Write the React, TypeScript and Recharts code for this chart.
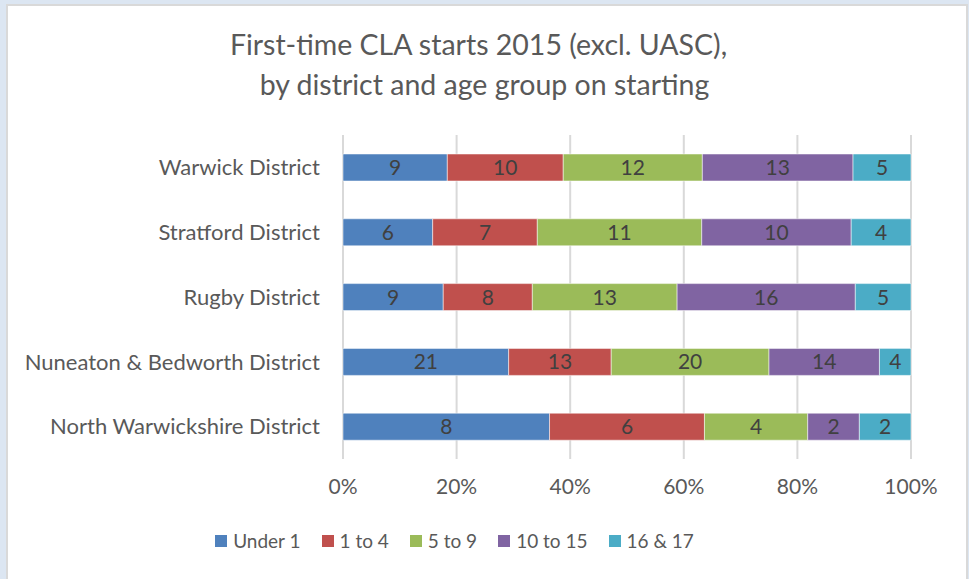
import React from "react";
import { BarChart, Bar, XAxis, YAxis, CartesianGrid, Legend, LabelList } from "recharts";

const districts = [
  "Warwick District",
  "Stratford District",
  "Rugby District",
  "Nuneaton & Bedworth District",
  "North Warwickshire District",
];
const under1 = [9, 6, 9, 21, 8];
const oneTo4 = [10, 7, 8, 13, 6];
const fiveTo9 = [12, 11, 13, 20, 4];
const tenTo15 = [13, 10, 16, 14, 2];
const sixteen17 = [5, 4, 5, 4, 2];
const xTicks = [0, 0.2, 0.4, 0.6, 0.8, 1];

const seriesDefs = [
  { key: "u1", name: "Under 1", color: "#4f81bd", values: under1 },
  { key: "a14", name: "1 to 4", color: "#c0504d", values: oneTo4 },
  { key: "a59", name: "5 to 9", color: "#9bbb59", values: fiveTo9 },
  { key: "a1015", name: "10 to 15", color: "#8064a2", values: tenTo15 },
  { key: "a1617", name: "16 & 17", color: "#4bacc6", values: sixteen17 },
];

const data = districts.map((d, i) => {
  const row: Record<string, any> = { district: d };
  seriesDefs.forEach((s) => (row[s.key] = s.values[i]));
  return row;
});

const FONT = "Lato, 'Open Sans', sans-serif";

const LegendContent = (props: any) => {
  const payload = props.payload || [];
  const ordered = seriesDefs
    .map((s) => payload.find((p: any) => p.value === s.name))
    .filter(Boolean);
  return (
    <div style={{ display: "flex", justifyContent: "center", fontFamily: FONT, fontSize: 19, color: "#595959" }}>
      {ordered.map((p: any, i: number) => (
        <div key={i} style={{ display: "flex", alignItems: "center", marginRight: i < ordered.length - 1 ? 21 : 0 }}>
          <span style={{ display: "inline-block", width: 12, height: 12, background: p.color, marginRight: 6 }} />
          <span>{p.value}</span>
        </div>
      ))}
    </div>
  );
};

export default function App() {
  return (
    <div style={{ position: "absolute", left: 0, top: 0, width: 969, height: 579, background: "#dce6f2", overflow: "hidden" }}>
      <div
        style={{
          position: "absolute",
          left: 6,
          top: 4,
          width: 958,
          height: 580,
          background: "#ffffff",
          borderTop: "2px solid #d9d9d9",
          borderLeft: "2px solid #d9d9d9",
          borderRight: "2px solid #d9d9d9",
        }}
      />
      <div
        style={{
          position: "absolute",
          left: 0,
          top: 24,
          width: 969,
          textAlign: "center",
          fontFamily: FONT,
          fontSize: 28.5,
          lineHeight: "40px",
          color: "#595959",
        }}
      >
        <div style={{ marginLeft: -12 }}>First-time CLA starts 2015 (excl. UASC),</div>
        <div>by district and age group on starting</div>
      </div>
      <div style={{ position: "absolute", left: 0, top: 0 }}>
        <BarChart
          width={969}
          height={579}
          data={data}
          layout="vertical"
          stackOffset="expand"
          barSize={27}
          margin={{ top: 135, right: 58, bottom: 37, left: 0 }}
        >
          <CartesianGrid horizontal={false} vertical={true} stroke="#d9d9d9" strokeWidth={2} />
          <XAxis
            type="number"
            domain={[0, 1]}
            ticks={xTicks}
            tickFormatter={(v: number) => `${Math.round(v * 100)}%`}
            axisLine={false}
            tickLine={false}
            tickSize={0}
            tickMargin={20}
            height={60}
            tick={{ fill: "#595959", fontSize: 21, fontFamily: FONT }}
            interval={0}
          />
          <YAxis
            type="category"
            dataKey="district"
            width={343}
            axisLine={false}
            tickLine={false}
            tickSize={0}
            tickMargin={23}
            tick={{ fill: "#595959", fontSize: 22, fontFamily: FONT }}
            interval={0}
          />
          <Legend
            verticalAlign="bottom"
            content={<LegendContent />}
            wrapperStyle={{ position: "absolute", top: 529, bottom: "auto", left: -30, width: 969 }}
          />
          {seriesDefs.map((s) => (
            <Bar
              key={s.key}
              dataKey={s.key}
              name={s.name}
              stackId="a"
              fill={s.color}
              stroke="#ffffff"
              strokeOpacity={0.5}
              strokeWidth={1}
              isAnimationActive={false}
            >
              <LabelList dataKey={s.key} position="center" fill="#404040" fontSize={21} fontFamily={FONT} />
            </Bar>
          ))}
        </BarChart>
      </div>
    </div>
  );
}
